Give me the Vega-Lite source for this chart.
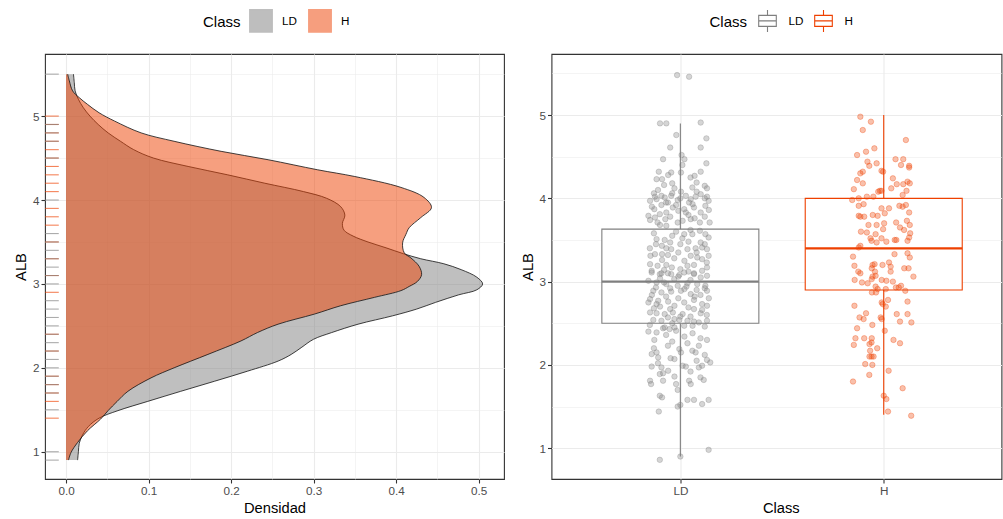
{
"$schema": "https://vega.github.io/schema/vega-lite/v6.json",
"background": "white",
"padding": {"left": 12, "top": 7, "right": 0, "bottom": 0},
"spacing": 13.5,
"datasets": {
"dens": [
{"Class":"LD","ALB":5.5,"Densidad":0.009},{"Class":"LD","ALB":5.4,"Densidad":0.010},{"Class":"LD","ALB":5.3,"Densidad":0.011},{"Class":"LD","ALB":5.2,"Densidad":0.015},{"Class":"LD","ALB":5.1,"Densidad":0.021},{"Class":"LD","ALB":5.0,"Densidad":0.029},{"Class":"LD","ALB":4.9,"Densidad":0.039},{"Class":"LD","ALB":4.8,"Densidad":0.051},{"Class":"LD","ALB":4.7,"Densidad":0.066},{"Class":"LD","ALB":4.6,"Densidad":0.082},{"Class":"LD","ALB":4.5,"Densidad":0.106},{"Class":"LD","ALB":4.4,"Densidad":0.148},{"Class":"LD","ALB":4.3,"Densidad":0.196},{"Class":"LD","ALB":4.2,"Densidad":0.241},{"Class":"LD","ALB":4.1,"Densidad":0.288},{"Class":"LD","ALB":4.02,"Densidad":0.316},{"Class":"LD","ALB":3.92,"Densidad":0.333},{"Class":"LD","ALB":3.82,"Densidad":0.338},{"Class":"LD","ALB":3.72,"Densidad":0.335},{"Class":"LD","ALB":3.64,"Densidad":0.337},{"Class":"LD","ALB":3.57,"Densidad":0.348},{"Class":"LD","ALB":3.5,"Densidad":0.366},{"Class":"LD","ALB":3.43,"Densidad":0.388},{"Class":"LD","ALB":3.36,"Densidad":0.409},{"Class":"LD","ALB":3.3,"Densidad":0.43},{"Class":"LD","ALB":3.24,"Densidad":0.458},{"Class":"LD","ALB":3.17,"Densidad":0.479},{"Class":"LD","ALB":3.08,"Densidad":0.498},{"Class":"LD","ALB":3.0,"Densidad":0.505},{"Class":"LD","ALB":2.93,"Densidad":0.498},{"Class":"LD","ALB":2.87,"Densidad":0.476},{"Class":"LD","ALB":2.78,"Densidad":0.448},{"Class":"LD","ALB":2.7,"Densidad":0.425},{"Class":"LD","ALB":2.62,"Densidad":0.396},{"Class":"LD","ALB":2.52,"Densidad":0.354},{"Class":"LD","ALB":2.42,"Densidad":0.322},{"Class":"LD","ALB":2.34,"Densidad":0.3},{"Class":"LD","ALB":2.24,"Densidad":0.285},{"Class":"LD","ALB":2.16,"Densidad":0.273},{"Class":"LD","ALB":2.08,"Densidad":0.257},{"Class":"LD","ALB":1.96,"Densidad":0.22},{"Class":"LD","ALB":1.84,"Densidad":0.18},{"Class":"LD","ALB":1.72,"Densidad":0.139},{"Class":"LD","ALB":1.6,"Densidad":0.099},{"Class":"LD","ALB":1.49,"Densidad":0.063},{"Class":"LD","ALB":1.4,"Densidad":0.04},{"Class":"LD","ALB":1.3,"Densidad":0.027},{"Class":"LD","ALB":1.2,"Densidad":0.02},{"Class":"LD","ALB":1.1,"Densidad":0.016},{"Class":"LD","ALB":1.0,"Densidad":0.015},{"Class":"LD","ALB":0.9,"Densidad":0.014},
{"Class":"H","ALB":5.5,"Densidad":0.002},{"Class":"H","ALB":5.42,"Densidad":0.004},{"Class":"H","ALB":5.3,"Densidad":0.008},{"Class":"H","ALB":5.22,"Densidad":0.016},{"Class":"H","ALB":5.14,"Densidad":0.026},{"Class":"H","ALB":5.04,"Densidad":0.04},{"Class":"H","ALB":4.94,"Densidad":0.059},{"Class":"H","ALB":4.8,"Densidad":0.091},{"Class":"H","ALB":4.7,"Densidad":0.131},{"Class":"H","ALB":4.58,"Densidad":0.188},{"Class":"H","ALB":4.48,"Densidad":0.245},{"Class":"H","ALB":4.36,"Densidad":0.305},{"Class":"H","ALB":4.28,"Densidad":0.35},{"Class":"H","ALB":4.15,"Densidad":0.406},{"Class":"H","ALB":4.03,"Densidad":0.434},{"Class":"H","ALB":3.91,"Densidad":0.443},{"Class":"H","ALB":3.79,"Densidad":0.43},{"Class":"H","ALB":3.67,"Densidad":0.416},{"Class":"H","ALB":3.59,"Densidad":0.412},{"Class":"H","ALB":3.49,"Densidad":0.408},{"Class":"H","ALB":3.37,"Densidad":0.41},{"Class":"H","ALB":3.31,"Densidad":0.418},{"Class":"H","ALB":3.21,"Densidad":0.428},{"Class":"H","ALB":3.11,"Densidad":0.431},{"Class":"H","ALB":3.03,"Densidad":0.426},{"Class":"H","ALB":2.97,"Densidad":0.416},{"Class":"H","ALB":2.92,"Densidad":0.406},{"Class":"H","ALB":2.84,"Densidad":0.374},{"Class":"H","ALB":2.74,"Densidad":0.333},{"Class":"H","ALB":2.64,"Densidad":0.301},{"Class":"H","ALB":2.52,"Densidad":0.257},{"Class":"H","ALB":2.42,"Densidad":0.232},{"Class":"H","ALB":2.32,"Densidad":0.212},{"Class":"H","ALB":2.16,"Densidad":0.172},{"Class":"H","ALB":2.0,"Densidad":0.131},{"Class":"H","ALB":1.88,"Densidad":0.103},{"Class":"H","ALB":1.72,"Densidad":0.075},{"Class":"H","ALB":1.6,"Densidad":0.062},{"Class":"H","ALB":1.49,"Densidad":0.051},{"Class":"H","ALB":1.39,"Densidad":0.042},{"Class":"H","ALB":1.25,"Densidad":0.026},{"Class":"H","ALB":1.11,"Densidad":0.014},{"Class":"H","ALB":0.99,"Densidad":0.006},{"Class":"H","ALB":0.9,"Densidad":0.003}
],
"rug": [
{"Class":"LD","ALB":5.5},{"Class":"H","ALB":5.0},{"Class":"H","ALB":4.9},{"Class":"LD","ALB":4.9},{"Class":"H","ALB":4.8},{"Class":"LD","ALB":4.8},{"Class":"H","ALB":4.7},{"Class":"LD","ALB":4.7},{"Class":"H","ALB":4.6},{"Class":"H","ALB":4.5},{"Class":"LD","ALB":4.5},{"Class":"H","ALB":4.4},{"Class":"H","ALB":4.3},{"Class":"H","ALB":4.2},{"Class":"H","ALB":4.1},{"Class":"LD","ALB":4.0},{"Class":"H","ALB":3.9},{"Class":"H","ALB":3.8},{"Class":"H","ALB":3.7},{"Class":"LD","ALB":3.6},{"Class":"H","ALB":3.5},{"Class":"LD","ALB":3.5},{"Class":"LD","ALB":3.4},{"Class":"H","ALB":3.3},{"Class":"LD","ALB":3.3},{"Class":"LD","ALB":3.2},{"Class":"H","ALB":3.1},{"Class":"LD","ALB":3.1},{"Class":"LD","ALB":3.0},{"Class":"H","ALB":2.9},{"Class":"LD","ALB":2.8},{"Class":"LD","ALB":2.7},{"Class":"LD","ALB":2.6},{"Class":"LD","ALB":2.5},{"Class":"H","ALB":2.4},{"Class":"LD","ALB":2.4},{"Class":"LD","ALB":2.3},{"Class":"H","ALB":2.2},{"Class":"LD","ALB":2.2},{"Class":"LD","ALB":2.1},{"Class":"LD","ALB":2.0},{"Class":"H","ALB":1.9},{"Class":"LD","ALB":1.9},{"Class":"H","ALB":1.8},{"Class":"LD","ALB":1.8},{"Class":"H","ALB":1.7},{"Class":"LD","ALB":1.7},{"Class":"H","ALB":1.6},{"Class":"LD","ALB":1.5},{"Class":"H","ALB":1.4},{"Class":"LD","ALB":1.0},{"Class":"LD","ALB":0.9}
],
"box": [
{"Class":"LD","pos":1,"lower":0.9,"q1":2.5,"median":3.0,"q3":3.63,"upper":4.9},
{"Class":"H","pos":2,"lower":1.4,"q1":2.9,"median":3.4,"q3":4.0,"upper":5.0}
],
"pts": [
{"Class":"LD","x":0.984,"ALB":5.48},{"Class":"LD","x":1.043,"ALB":5.46},{"Class":"LD","x":0.9,"ALB":4.9},{"Class":"LD","x":0.931,"ALB":4.9},{"Class":"LD","x":1.1,"ALB":4.91},{"Class":"LD","x":0.98,"ALB":4.76},{"Class":"LD","x":1.128,"ALB":4.72},{"Class":"LD","x":0.95,"ALB":4.61},{"Class":"LD","x":1.1,"ALB":4.61},{"Class":"LD","x":1.006,"ALB":4.52},{"Class":"LD","x":1.02,"ALB":4.47},{"Class":"LD","x":0.915,"ALB":4.47},{"Class":"LD","x":1.01,"ALB":4.4},{"Class":"LD","x":1.128,"ALB":4.42},{"Class":"LD","x":0.894,"ALB":4.32},{"Class":"LD","x":1.003,"ALB":4.31},{"Class":"LD","x":0.94,"ALB":4.28},{"Class":"LD","x":0.955,"ALB":4.31},{"Class":"LD","x":0.883,"ALB":4.23},{"Class":"LD","x":0.91,"ALB":4.23},{"Class":"LD","x":1.05,"ALB":4.25},{"Class":"LD","x":1.07,"ALB":4.27},{"Class":"LD","x":1.1,"ALB":4.32},
{"Class":"LD","x":0.971,"ALB":4.12},{"Class":"LD","x":1.003,"ALB":4.08},{"Class":"LD","x":1.059,"ALB":4.13},{"Class":"LD","x":1.131,"ALB":4.12},{"Class":"LD","x":1.1,"ALB":4.05},{"Class":"LD","x":0.875,"ALB":4.02},{"Class":"LD","x":0.907,"ALB":4.03},{"Class":"LD","x":0.851,"ALB":3.97},{"Class":"LD","x":0.883,"ALB":3.99},{"Class":"LD","x":0.923,"ALB":4.01},{"Class":"LD","x":0.955,"ALB":4.03},{"Class":"LD","x":1.027,"ALB":4.03},{"Class":"LD","x":1.051,"ALB":3.99},{"Class":"LD","x":1.075,"ALB":4.02},{"Class":"LD","x":1.131,"ALB":4.02},{"Class":"LD","x":1.139,"ALB":3.97},{"Class":"LD","x":0.987,"ALB":3.98},{"Class":"LD","x":0.939,"ALB":3.95},{"Class":"LD","x":0.907,"ALB":3.92},{"Class":"LD","x":0.872,"ALB":3.87},{"Class":"LD","x":0.931,"ALB":3.83},{"Class":"LD","x":0.963,"ALB":3.89},{"Class":"LD","x":0.979,"ALB":3.92},{"Class":"LD","x":1.019,"ALB":3.87},{"Class":"LD","x":1.067,"ALB":3.89},{"Class":"LD","x":1.1,"ALB":3.83},{"Class":"LD","x":1.123,"ALB":3.91},{"Class":"LD","x":0.843,"ALB":3.79},{"Class":"LD","x":0.875,"ALB":3.77},{"Class":"LD","x":0.899,"ALB":3.81},{"Class":"LD","x":0.926,"ALB":3.75},{"Class":"LD","x":0.851,"ALB":3.74},{"Class":"LD","x":0.888,"ALB":3.71},{"Class":"LD","x":0.987,"ALB":3.71},{"Class":"LD","x":1.011,"ALB":3.73},{"Class":"LD","x":1.051,"ALB":3.75},{"Class":"LD","x":1.096,"ALB":3.71},{"Class":"LD","x":1.144,"ALB":3.71},{"Class":"LD","x":0.931,"ALB":3.67},{"Class":"LD","x":1.027,"ALB":3.83},{"Class":"LD","x":1.043,"ALB":3.95},
{"Class":"LD","x":0.96,"ALB":4.06},{"Class":"LD","x":1.08,"ALB":4.08},{"Class":"LD","x":0.89,"ALB":4.1},{"Class":"LD","x":1.12,"ALB":4.0},{"Class":"LD","x":0.99,"ALB":3.85},{"Class":"LD","x":1.04,"ALB":3.8},{"Class":"LD","x":0.86,"ALB":3.9},{"Class":"LD","x":1.14,"ALB":3.86},{"Class":"LD","x":0.95,"ALB":3.78},{"Class":"LD","x":1.07,"ALB":3.76},{"Class":"LD","x":0.9,"ALB":3.68},{"Class":"LD","x":1.12,"ALB":3.78},{"Class":"LD","x":1.0,"ALB":4.0},{"Class":"LD","x":1.06,"ALB":3.93},{"Class":"LD","x":0.93,"ALB":3.95},{"Class":"LD","x":0.87,"ALB":4.06},{"Class":"LD","x":1.08,"ALB":4.19},{"Class":"LD","x":0.96,"ALB":4.18},{"Class":"LD","x":1.12,"ALB":4.15},{"Class":"LD","x":0.92,"ALB":4.16},
{"Class":"LD","x":0.979,"ALB":3.6},{"Class":"LD","x":1.019,"ALB":3.57},{"Class":"LD","x":1.059,"ALB":3.57},{"Class":"LD","x":1.096,"ALB":3.61},{"Class":"LD","x":1.123,"ALB":3.57},{"Class":"LD","x":1.139,"ALB":3.53},{"Class":"LD","x":0.883,"ALB":3.51},{"Class":"LD","x":0.923,"ALB":3.5},{"Class":"LD","x":0.909,"ALB":3.43},{"Class":"LD","x":0.931,"ALB":3.4},{"Class":"LD","x":0.955,"ALB":3.39},{"Class":"LD","x":1.035,"ALB":3.39},{"Class":"LD","x":1.075,"ALB":3.4},{"Class":"LD","x":1.107,"ALB":3.41},{"Class":"LD","x":1.131,"ALB":3.39},{"Class":"LD","x":0.875,"ALB":3.33},{"Class":"LD","x":0.91,"ALB":3.33},{"Class":"LD","x":0.853,"ALB":3.31},{"Class":"LD","x":0.939,"ALB":3.32},{"Class":"LD","x":1.051,"ALB":3.31},{"Class":"LD","x":1.083,"ALB":3.29},{"Class":"LD","x":1.107,"ALB":3.27},{"Class":"LD","x":1.139,"ALB":3.31},{"Class":"LD","x":0.851,"ALB":3.21},{"Class":"LD","x":0.888,"ALB":3.19},{"Class":"LD","x":0.931,"ALB":3.2},{"Class":"LD","x":0.958,"ALB":3.17},{"Class":"LD","x":1.035,"ALB":3.19},{"Class":"LD","x":1.067,"ALB":3.2},{"Class":"LD","x":1.131,"ALB":3.17},{"Class":"LD","x":0.859,"ALB":3.13},{"Class":"LD","x":0.899,"ALB":3.09},{"Class":"LD","x":0.939,"ALB":3.1},{"Class":"LD","x":0.995,"ALB":3.08},{"Class":"LD","x":1.067,"ALB":3.09},{"Class":"LD","x":1.107,"ALB":3.13},
{"Class":"LD","x":0.96,"ALB":3.55},{"Class":"LD","x":1.0,"ALB":3.45},{"Class":"LD","x":1.04,"ALB":3.48},{"Class":"LD","x":0.88,"ALB":3.45},{"Class":"LD","x":1.1,"ALB":3.47},{"Class":"LD","x":0.99,"ALB":3.35},{"Class":"LD","x":1.02,"ALB":3.25},{"Class":"LD","x":0.91,"ALB":3.26},{"Class":"LD","x":1.13,"ALB":3.23},{"Class":"LD","x":0.97,"ALB":3.28},{"Class":"LD","x":1.08,"ALB":3.35},{"Class":"LD","x":0.87,"ALB":3.58},{"Class":"LD","x":1.05,"ALB":3.62},{"Class":"LD","x":0.95,"ALB":3.47},{"Class":"LD","x":1.0,"ALB":3.15},{"Class":"LD","x":0.92,"ALB":3.14},{"Class":"LD","x":1.04,"ALB":3.12},{"Class":"LD","x":1.12,"ALB":3.45},{"Class":"LD","x":0.85,"ALB":3.4},{"Class":"LD","x":1.01,"ALB":3.52},
{"Class":"LD","x":0.859,"ALB":3.11},{"Class":"LD","x":0.907,"ALB":3.1},{"Class":"LD","x":0.955,"ALB":3.09},{"Class":"LD","x":1.019,"ALB":3.11},{"Class":"LD","x":1.067,"ALB":3.1},{"Class":"LD","x":1.131,"ALB":3.07},{"Class":"LD","x":0.843,"ALB":3.01},{"Class":"LD","x":0.883,"ALB":2.99},{"Class":"LD","x":0.931,"ALB":2.97},{"Class":"LD","x":0.987,"ALB":2.95},{"Class":"LD","x":1.035,"ALB":2.98},{"Class":"LD","x":1.083,"ALB":2.97},{"Class":"LD","x":1.123,"ALB":2.95},{"Class":"LD","x":0.867,"ALB":2.89},{"Class":"LD","x":0.907,"ALB":2.87},{"Class":"LD","x":0.955,"ALB":2.88},{"Class":"LD","x":1.003,"ALB":2.89},{"Class":"LD","x":1.051,"ALB":2.85},{"Class":"LD","x":1.099,"ALB":2.84},{"Class":"LD","x":1.131,"ALB":2.89},{"Class":"LD","x":0.851,"ALB":2.79},{"Class":"LD","x":0.891,"ALB":2.77},{"Class":"LD","x":0.843,"ALB":2.75},{"Class":"LD","x":0.883,"ALB":2.73},{"Class":"LD","x":0.971,"ALB":2.71},{"Class":"LD","x":1.019,"ALB":2.75},{"Class":"LD","x":1.067,"ALB":2.78},{"Class":"LD","x":1.107,"ALB":2.73},{"Class":"LD","x":1.131,"ALB":2.71},{"Class":"LD","x":0.851,"ALB":2.63},{"Class":"LD","x":0.883,"ALB":2.62},{"Class":"LD","x":0.923,"ALB":2.61},{"Class":"LD","x":0.963,"ALB":2.63},{"Class":"LD","x":1.011,"ALB":2.61},{"Class":"LD","x":1.067,"ALB":2.67},{"Class":"LD","x":1.107,"ALB":2.66},{"Class":"LD","x":0.867,"ALB":2.54},{"Class":"LD","x":0.907,"ALB":2.53},{"Class":"LD","x":0.939,"ALB":2.57},{"Class":"LD","x":0.971,"ALB":2.55},{"Class":"LD","x":0.995,"ALB":2.54},{"Class":"LD","x":1.035,"ALB":2.53},{"Class":"LD","x":1.067,"ALB":2.52},{"Class":"LD","x":1.091,"ALB":2.51},{"Class":"LD","x":1.131,"ALB":2.53},{"Class":"LD","x":0.923,"ALB":2.45},{"Class":"LD","x":0.947,"ALB":2.43},{"Class":"LD","x":0.979,"ALB":2.41},
{"Class":"LD","x":0.9,"ALB":3.04},{"Class":"LD","x":0.97,"ALB":3.03},{"Class":"LD","x":1.05,"ALB":3.02},{"Class":"LD","x":1.1,"ALB":3.05},{"Class":"LD","x":0.88,"ALB":2.93},{"Class":"LD","x":0.95,"ALB":2.92},{"Class":"LD","x":1.02,"ALB":2.91},{"Class":"LD","x":1.12,"ALB":2.92},{"Class":"LD","x":0.86,"ALB":2.84},{"Class":"LD","x":0.93,"ALB":2.82},{"Class":"LD","x":0.99,"ALB":2.8},{"Class":"LD","x":1.07,"ALB":2.82},{"Class":"LD","x":1.14,"ALB":2.8},{"Class":"LD","x":0.9,"ALB":2.7},{"Class":"LD","x":0.95,"ALB":2.67},{"Class":"LD","x":1.04,"ALB":2.69},{"Class":"LD","x":1.1,"ALB":2.62},{"Class":"LD","x":0.87,"ALB":2.68},{"Class":"LD","x":1.0,"ALB":2.58},{"Class":"LD","x":1.13,"ALB":2.6},{"Class":"LD","x":0.96,"ALB":2.5},{"Class":"LD","x":1.06,"ALB":2.47},{"Class":"LD","x":0.85,"ALB":2.48},{"Class":"LD","x":1.12,"ALB":2.46},{"Class":"LD","x":0.99,"ALB":3.06},{"Class":"LD","x":1.03,"ALB":2.94},{"Class":"LD","x":0.92,"ALB":2.99},{"Class":"LD","x":1.08,"ALB":2.9},{"Class":"LD","x":0.94,"ALB":2.76},{"Class":"LD","x":1.05,"ALB":2.58},
{"Class":"LD","x":0.843,"ALB":2.4},{"Class":"LD","x":0.883,"ALB":2.39},{"Class":"LD","x":0.915,"ALB":2.44},{"Class":"LD","x":0.971,"ALB":2.45},{"Class":"LD","x":1.019,"ALB":2.47},{"Class":"LD","x":0.872,"ALB":2.3},{"Class":"LD","x":0.939,"ALB":2.23},{"Class":"LD","x":1.035,"ALB":2.26},{"Class":"LD","x":1.099,"ALB":2.32},{"Class":"LD","x":1.131,"ALB":2.3},{"Class":"LD","x":0.883,"ALB":2.15},{"Class":"LD","x":0.859,"ALB":2.13},{"Class":"LD","x":0.891,"ALB":2.09},{"Class":"LD","x":0.995,"ALB":2.19},{"Class":"LD","x":1.003,"ALB":2.15},{"Class":"LD","x":1.059,"ALB":2.17},{"Class":"LD","x":1.075,"ALB":2.15},{"Class":"LD","x":1.091,"ALB":2.23},{"Class":"LD","x":0.952,"ALB":2.08},{"Class":"LD","x":0.971,"ALB":2.07},{"Class":"LD","x":1.131,"ALB":2.06},{"Class":"LD","x":1.147,"ALB":2.03},{"Class":"LD","x":1.107,"ALB":1.99},{"Class":"LD","x":1.091,"ALB":1.97},{"Class":"LD","x":0.907,"ALB":1.97},{"Class":"LD","x":0.859,"ALB":1.98},{"Class":"LD","x":1.011,"ALB":1.99},{"Class":"LD","x":1.027,"ALB":1.98},{"Class":"LD","x":0.915,"ALB":1.9},{"Class":"LD","x":0.899,"ALB":1.89},{"Class":"LD","x":1.099,"ALB":1.85},{"Class":"LD","x":1.115,"ALB":1.82},{"Class":"LD","x":1.043,"ALB":1.81},{"Class":"LD","x":0.851,"ALB":1.81},{"Class":"LD","x":0.856,"ALB":1.77},{"Class":"LD","x":0.915,"ALB":1.81},{"Class":"LD","x":0.971,"ALB":1.86},{"Class":"LD","x":0.979,"ALB":1.77},{"Class":"LD","x":0.987,"ALB":1.7},{"Class":"LD","x":1.051,"ALB":1.77},{"Class":"LD","x":0.899,"ALB":1.63},{"Class":"LD","x":0.91,"ALB":1.61},{"Class":"LD","x":1.035,"ALB":1.58},{"Class":"LD","x":1.067,"ALB":1.58},{"Class":"LD","x":1.107,"ALB":1.53},{"Class":"LD","x":1.139,"ALB":1.58},{"Class":"LD","x":0.987,"ALB":1.5},{"Class":"LD","x":1.0,"ALB":1.52},{"Class":"LD","x":0.894,"ALB":1.44},{"Class":"LD","x":1.139,"ALB":0.98},{"Class":"LD","x":0.899,"ALB":0.86},{"Class":"LD","x":1.0,"ALB":0.9},
{"Class":"LD","x":0.93,"ALB":2.36},{"Class":"LD","x":1.06,"ALB":2.38},{"Class":"LD","x":0.87,"ALB":2.2},{"Class":"LD","x":1.12,"ALB":2.12},{"Class":"LD","x":0.96,"ALB":2.28},{"Class":"LD","x":1.02,"ALB":2.34},{"Class":"LD","x":0.89,"ALB":2.02},{"Class":"LD","x":1.08,"ALB":2.05},{"Class":"LD","x":0.94,"ALB":1.93},{"Class":"LD","x":1.05,"ALB":1.92},
{"Class":"H","x":1.885,"ALB":4.98},{"Class":"H","x":1.937,"ALB":4.92},{"Class":"H","x":1.897,"ALB":4.82},{"Class":"H","x":2.109,"ALB":4.7},{"Class":"H","x":1.954,"ALB":4.6},{"Class":"H","x":1.913,"ALB":4.56},{"Class":"H","x":1.869,"ALB":4.52},{"Class":"H","x":2.058,"ALB":4.47},{"Class":"H","x":2.096,"ALB":4.47},{"Class":"H","x":2.085,"ALB":4.4},{"Class":"H","x":2.125,"ALB":4.39},{"Class":"H","x":2.125,"ALB":4.37},{"Class":"H","x":1.92,"ALB":4.44},{"Class":"H","x":1.929,"ALB":4.39},{"Class":"H","x":1.965,"ALB":4.42},{"Class":"H","x":1.897,"ALB":4.32},{"Class":"H","x":1.885,"ALB":4.3},{"Class":"H","x":1.989,"ALB":4.33},{"Class":"H","x":1.997,"ALB":4.32},{"Class":"H","x":1.869,"ALB":4.22},{"Class":"H","x":1.897,"ALB":4.18},{"Class":"H","x":2.045,"ALB":4.24},{"Class":"H","x":2.064,"ALB":4.17},{"Class":"H","x":2.096,"ALB":4.17},{"Class":"H","x":2.117,"ALB":4.2},{"Class":"H","x":2.128,"ALB":4.18},{"Class":"H","x":1.853,"ALB":4.11},{"Class":"H","x":2.037,"ALB":4.12},{"Class":"H","x":1.981,"ALB":4.09},{"Class":"H","x":1.989,"ALB":4.09},{"Class":"H","x":1.973,"ALB":4.08},{"Class":"H","x":2.112,"ALB":4.09},{"Class":"H","x":2.093,"ALB":4.04},{"Class":"H","x":1.845,"ALB":3.98},{"Class":"H","x":1.877,"ALB":4.0},{"Class":"H","x":1.917,"ALB":4.02},{"Class":"H","x":1.949,"ALB":4.02},{"Class":"H","x":1.901,"ALB":3.93},{"Class":"H","x":1.877,"ALB":3.91},{"Class":"H","x":2.109,"ALB":3.92},{"Class":"H","x":1.989,"ALB":3.88},{"Class":"H","x":2.026,"ALB":3.88},{"Class":"H","x":2.077,"ALB":3.91},{"Class":"H","x":2.093,"ALB":3.9},{"Class":"H","x":2.005,"ALB":3.82},{"Class":"H","x":2.125,"ALB":3.83},{"Class":"H","x":1.877,"ALB":3.79},{"Class":"H","x":1.885,"ALB":3.78},{"Class":"H","x":1.904,"ALB":3.78},{"Class":"H","x":1.946,"ALB":3.8},{"Class":"H","x":1.97,"ALB":3.79},{"Class":"H","x":2.114,"ALB":3.73},{"Class":"H","x":2.061,"ALB":3.71},{"Class":"H","x":1.925,"ALB":3.68},{"Class":"H","x":1.965,"ALB":3.68},{"Class":"H","x":2.002,"ALB":3.7},{"Class":"H","x":2.128,"ALB":3.68},{"Class":"H","x":2.08,"ALB":3.65},{"Class":"H","x":2.1,"ALB":3.62},{"Class":"H","x":1.888,"ALB":3.6},{"Class":"H","x":1.917,"ALB":3.59},{"Class":"H","x":1.96,"ALB":3.57},{"Class":"H","x":1.997,"ALB":3.63},{"Class":"H","x":2.13,"ALB":3.58},{"Class":"H","x":1.935,"ALB":3.52},{"Class":"H","x":1.94,"ALB":3.49},{"Class":"H","x":1.965,"ALB":3.47},{"Class":"H","x":1.989,"ALB":3.52},{"Class":"H","x":2.013,"ALB":3.48},{"Class":"H","x":2.054,"ALB":3.5},{"Class":"H","x":2.062,"ALB":3.5},{"Class":"H","x":2.117,"ALB":3.49},{"Class":"H","x":2.125,"ALB":3.53},{"Class":"H","x":1.885,"ALB":3.43},{"Class":"H","x":1.877,"ALB":3.41},{"Class":"H","x":1.849,"ALB":3.3},{"Class":"H","x":2.053,"ALB":3.33},{"Class":"H","x":2.117,"ALB":3.34},{"Class":"H","x":2.128,"ALB":3.29},{"Class":"H","x":1.856,"ALB":3.19},{"Class":"H","x":1.945,"ALB":3.2},{"Class":"H","x":1.955,"ALB":3.21},{"Class":"H","x":1.994,"ALB":3.2},{"Class":"H","x":2.026,"ALB":3.23},{"Class":"H","x":2.034,"ALB":3.18},{"Class":"H","x":1.875,"ALB":3.12},{"Class":"H","x":1.885,"ALB":3.1},{"Class":"H","x":1.941,"ALB":3.16},{"Class":"H","x":1.957,"ALB":3.12},{"Class":"H","x":2.034,"ALB":3.12},{"Class":"H","x":2.101,"ALB":3.16},{"Class":"H","x":2.122,"ALB":3.16},{"Class":"H","x":2.146,"ALB":3.06},{"Class":"H","x":1.96,"ALB":3.07},{"Class":"H","x":1.945,"ALB":3.06},{"Class":"H","x":1.941,"ALB":3.03},{"Class":"H","x":1.99,"ALB":3.02},{"Class":"H","x":2.013,"ALB":3.01},{"Class":"H","x":1.857,"ALB":3.02},{"Class":"H","x":1.893,"ALB":2.99},{"Class":"H","x":1.921,"ALB":2.98},{"Class":"H","x":2.045,"ALB":3.0},{"Class":"H","x":1.96,"ALB":2.94},{"Class":"H","x":1.97,"ALB":2.91},{"Class":"H","x":2.06,"ALB":2.93},{"Class":"H","x":2.074,"ALB":2.93},{"Class":"H","x":2.085,"ALB":2.95},{"Class":"H","x":2.01,"ALB":2.91},{"Class":"H","x":1.942,"ALB":2.87},{"Class":"H","x":1.962,"ALB":2.87},{"Class":"H","x":2.106,"ALB":2.89},{"Class":"H","x":1.995,"ALB":2.73},{"Class":"H","x":1.99,"ALB":2.75},{"Class":"H","x":2.021,"ALB":2.78},{"Class":"H","x":2.01,"ALB":2.7},{"Class":"H","x":2.117,"ALB":2.76},{"Class":"H","x":1.856,"ALB":2.71},{"Class":"H","x":1.913,"ALB":2.62},{"Class":"H","x":2.064,"ALB":2.61},{"Class":"H","x":2.117,"ALB":2.61},{"Class":"H","x":1.881,"ALB":2.57},{"Class":"H","x":1.901,"ALB":2.55},{"Class":"H","x":1.985,"ALB":2.57},{"Class":"H","x":1.99,"ALB":2.55},{"Class":"H","x":2.08,"ALB":2.52},{"Class":"H","x":2.136,"ALB":2.51},{"Class":"H","x":1.944,"ALB":2.48},{"Class":"H","x":1.869,"ALB":2.44},{"Class":"H","x":2.005,"ALB":2.41},{"Class":"H","x":1.861,"ALB":2.32},{"Class":"H","x":1.904,"ALB":2.32},{"Class":"H","x":1.941,"ALB":2.32},{"Class":"H","x":1.93,"ALB":2.25},{"Class":"H","x":1.94,"ALB":2.27},{"Class":"H","x":1.853,"ALB":2.24},{"Class":"H","x":2.048,"ALB":2.3},{"Class":"H","x":2.08,"ALB":2.26},{"Class":"H","x":1.968,"ALB":2.2},{"Class":"H","x":1.933,"ALB":2.17},{"Class":"H","x":1.94,"ALB":2.1},{"Class":"H","x":1.93,"ALB":2.1},{"Class":"H","x":1.95,"ALB":2.1},{"Class":"H","x":1.909,"ALB":2.01},{"Class":"H","x":1.944,"ALB":2.0},{"Class":"H","x":2.024,"ALB":1.93},{"Class":"H","x":1.929,"ALB":1.88},{"Class":"H","x":1.849,"ALB":1.8},{"Class":"H","x":2.093,"ALB":1.72},{"Class":"H","x":2.0,"ALB":1.63},{"Class":"H","x":2.013,"ALB":1.59},{"Class":"H","x":2.021,"ALB":1.44},{"Class":"H","x":2.135,"ALB":1.39}
]
},
"hconcat": [
{
"width": 459, "height": 425,
"layer": [
{"data": {"name": "dens"}, "transform": [{"filter": "datum.Class === 'LD'"}],
 "mark": {"type": "area", "orient": "horizontal", "opacity": 0.5, "interpolate": "catmull-rom"},
 "encoding": {
  "y": {"field": "ALB", "type": "quantitative", "scale": {"domain": [0.675, 5.74], "nice": false, "zero": false},
   "axis": {"title": "ALB", "values": [1,1.5,2,2.5,3,3.5,4,4.5,5,5.5], "grid": true,
    "labelExpr": "datum.value % 1 === 0 ? format(datum.value, 'd') : ''",
    "tickOpacity": {"condition": {"test": "datum.value % 1 !== 0", "value": 0}, "value": 1},
    "gridWidth": {"condition": {"test": "datum.value % 1 !== 0", "value": 0.55}, "value": 1.1}}},
  "x": {"field": "Densidad", "type": "quantitative", "scale": {"domain": [-0.0255, 0.5309], "nice": false, "zero": false},
   "axis": {"title": "Densidad", "values": [0,0.05,0.1,0.15,0.2,0.25,0.3,0.35,0.4,0.45,0.5], "grid": true,
    "labelExpr": "round(datum.value*100) % 10 === 0 ? format(datum.value, '.1f') : ''",
    "tickOpacity": {"condition": {"test": "round(datum.value*100) % 10 !== 0", "value": 0}, "value": 1},
    "gridWidth": {"condition": {"test": "round(datum.value*100) % 10 !== 0", "value": 0.55}, "value": 1.1}}},
  "fill": {"field": "Class", "type": "nominal", "scale": {"domain": ["LD", "H"], "range": ["#7F7F7F", "#EE4000"]},
   "legend": {"title": "Class", "orient": "none", "legendX": 158, "legendY": -45.5, "direction": "horizontal",
    "symbolType": "M-1,-1H1V1H-1Z", "symbolSize": 500,
    "encode": {"symbols": {"update": {"fillOpacity": {"value": 0.5}, "stroke": {"value": "#333333"}, "strokeWidth": {"value": 1}, "opacity": {"value": 1}}}}}}
 }},
{"data": {"name": "dens"}, "transform": [{"filter": "datum.Class === 'LD'"}],
 "mark": {"type": "line", "color": "#111111", "strokeWidth": 0.8, "interpolate": "catmull-rom"},
 "encoding": {"y": {"field": "ALB", "type": "quantitative"}, "x": {"field": "Densidad", "type": "quantitative"}, "order": {"field": "ALB", "type": "quantitative"}}},
{"data": {"name": "dens"}, "transform": [{"filter": "datum.Class === 'H'"}],
 "mark": {"type": "area", "orient": "horizontal", "opacity": 0.5, "interpolate": "catmull-rom"},
 "encoding": {"y": {"field": "ALB", "type": "quantitative"}, "x": {"field": "Densidad", "type": "quantitative"},
  "fill": {"field": "Class", "type": "nominal"}}},
{"data": {"name": "dens"}, "transform": [{"filter": "datum.Class === 'H'"}],
 "mark": {"type": "line", "color": "#111111", "strokeWidth": 0.8, "interpolate": "catmull-rom"},
 "encoding": {"y": {"field": "ALB", "type": "quantitative"}, "x": {"field": "Densidad", "type": "quantitative"}, "order": {"field": "ALB", "type": "quantitative"}}},
{"data": {"name": "rug"},
 "mark": {"type": "rule", "opacity": 0.65, "strokeWidth": 1.1},
 "encoding": {"y": {"field": "ALB", "type": "quantitative"}, "x": {"datum": -0.0255, "type": "quantitative"}, "x2": {"datum": -0.0088},
  "stroke": {"field": "Class", "type": "nominal", "scale": {"domain": ["LD", "H"], "range": ["#7F7F7F", "#EE4000"]}, "legend": null}}}
]
},
{
"width": 450, "height": 425,
"layer": [
{"data": {"name": "box"}, "mark": {"type": "rule", "strokeWidth": 1.1},
 "encoding": {
  "x": {"field": "pos", "type": "quantitative", "scale": {"domain": [0.391, 2.5545], "nice": false, "zero": false},
   "axis": {"title": "Class", "titleX": 229.3, "values": [1, 2], "grid": true, "gridWidth": 1.1, "labelExpr": "datum.value === 1 ? 'LD' : 'H'"}},
  "y": {"field": "lower", "type": "quantitative", "scale": {"domain": [0.63, 5.733], "nice": false, "zero": false},
   "axis": {"title": "ALB", "values": [1,1.5,2,2.5,3,3.5,4,4.5,5,5.5], "grid": true,
    "labelExpr": "datum.value % 1 === 0 ? format(datum.value, 'd') : ''",
    "tickOpacity": {"condition": {"test": "datum.value % 1 !== 0", "value": 0}, "value": 1},
    "gridWidth": {"condition": {"test": "datum.value % 1 !== 0", "value": 0.55}, "value": 1.1}}},
  "y2": {"field": "q1"},
  "stroke": {"field": "Class", "type": "nominal", "scale": {"domain": ["LD", "H"], "range": ["#7F7F7F", "#EE4000"]},
   "legend": {"title": "Class", "orient": "none", "legendX": 158, "legendY": -45.5, "direction": "horizontal",
    "symbolType": "M-0.8,-0.5H0.8V0.5H-0.8Z M-0.8,0H0.8 M0,-0.5V-1 M0,0.5V1", "symbolSize": 484,
    "encode": {"symbols": {"update": {"fill": {"value": "transparent"}, "fillOpacity": {"value": 0}, "strokeWidth": {"value": 1.1}, "opacity": {"value": 1}, "strokeOpacity": {"value": 1}}}}}}
 }},
{"data": {"name": "box"}, "mark": {"type": "rule", "strokeWidth": 1.1},
 "encoding": {"x": {"field": "pos", "type": "quantitative"}, "y": {"field": "q3", "type": "quantitative"}, "y2": {"field": "upper"}, "stroke": {"field": "Class", "type": "nominal"}}},
{"data": {"name": "box"}, "mark": {"type": "bar", "width": 157, "fill": "white", "strokeWidth": 1.1},
 "encoding": {"x": {"field": "pos", "type": "quantitative"}, "y": {"field": "q1", "type": "quantitative"}, "y2": {"field": "q3"}, "stroke": {"field": "Class", "type": "nominal"}}},
{"data": {"name": "box"}, "mark": {"type": "tick", "orient": "horizontal", "size": 157, "thickness": 2.2, "opacity": 1},
 "encoding": {"x": {"field": "pos", "type": "quantitative"}, "y": {"field": "median", "type": "quantitative"}, "color": {"field": "Class", "type": "nominal", "scale": {"domain": ["LD", "H"], "range": ["#7F7F7F", "#EE4000"]}, "legend": null}}},
{"data": {"name": "pts"}, "mark": {"type": "point", "filled": true, "size": 30, "fillOpacity": 0.33, "strokeOpacity": 0.45, "strokeWidth": 0.7},
 "encoding": {"x": {"field": "x", "type": "quantitative"}, "y": {"field": "ALB", "type": "quantitative"},
  "fill": {"field": "Class", "type": "nominal", "scale": {"domain": ["LD", "H"], "range": ["#7F7F7F", "#EE4000"]}, "legend": null},
  "stroke": {"field": "Class", "type": "nominal"}}}
]
}
],
"resolve": {"scale": {"x": "independent", "y": "independent", "fill": "independent", "stroke": "independent", "color": "independent"}, "legend": {"fill": "independent", "stroke": "independent", "color": "independent"}},
"config": {
 "font": "Liberation Sans",
 "view": {"stroke": "#333333", "strokeWidth": 1.1},
 "axis": {"domain": false, "gridColor": "#EBEBEB", "tickColor": "#333333", "tickSize": 4, "tickWidth": 1.1,
  "labelColor": "#4D4D4D", "labelFont": "Liberation Sans", "labelFontSize": 11.7, "labelPadding": 2,
  "titleFont": "Liberation Sans", "titleFontSize": 14.7, "titleFontWeight": "normal", "titleColor": "#000000", "titlePadding": 4},
 "legend": {"titleOrient": "left", "titleFont": "Liberation Sans", "titleFontSize": 15, "titleFontWeight": "normal", "titleColor": "#000000",
  "titleAnchor": "middle", "titleBaseline": "middle",
  "labelFont": "Liberation Sans", "labelFontSize": 11.7, "labelColor": "#000000", "labelOffset": 9, "columnPadding": 8, "titlePadding": 8, "padding": 0}
}
}
